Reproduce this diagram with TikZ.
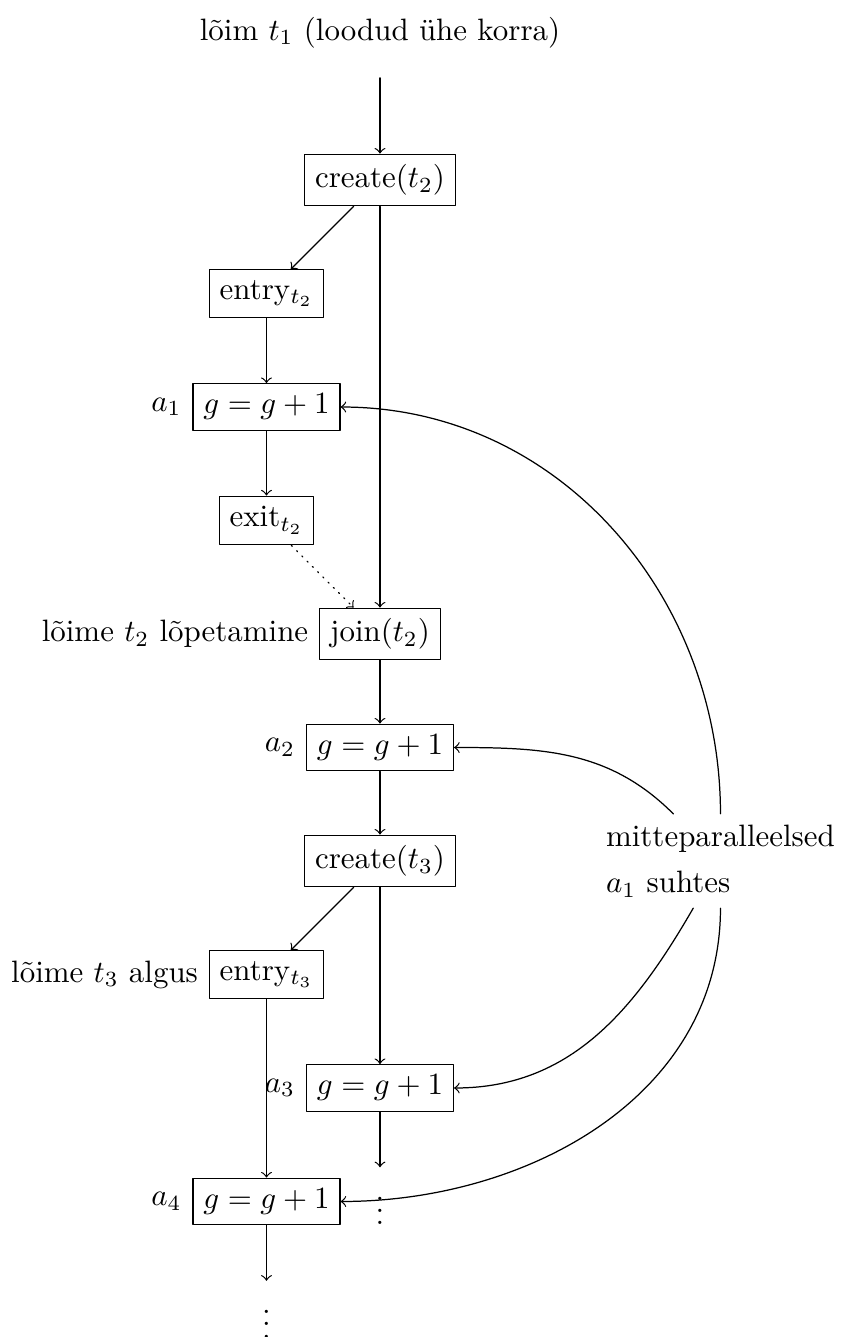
\documentclass[tikz,border=0pt]{standalone}

\begin{document}
\begin{tikzpicture}[
    x={(1.29cm,0cm)},
    y={(0cm,1.29cm)},
    line cap=round,
    line join=round,
    box/.style={
        draw,
        rectangle
    },
    flow/.style={
        ->
    },
    exitflow/.style={
        ->,
        dotted
    },
    order/.style={
        ->
    }
]

\useasboundingbox (-3.348,1.586) rectangle (4.07,-10.194);

% =================================================
% Lõim t_1
% =================================================

\node (thread1) at (0,1.3) {lõim $t_1$ (loodud ühe korra)};
\coordinate (thread1end) at (0,0.9);

% =================================================
% Sündmused
% =================================================

\node[box] (create2) at (0,0)   {create($t_2$)};
\node[box] (entry2)  at (-1,-1) {entry$_{t_2}$};
\node[box] (a1)      at (-1,-2) {$g = g + 1$};
\node[box] (exit2)   at (-1,-3) {exit$_{t_2}$};
\node[box] (join2)   at (0,-4)  {join($t_2$)};
\node[box] (a2)      at (0,-5)  {$g = g + 1$};
\node[box] (create3) at (0,-6)  {create($t_3$)};
\node[box] (entry3)  at (-1,-7) {entry$_{t_3}$};
\node[box] (a3)      at (0,-8)  {$g = g + 1$};
\node[box] (a4)      at (-1,-9) {$g = g + 1$};

\node (dots3) at (0,-9)   {$\vdots$};
\node (dots4) at (-1,-10) {$\vdots$};

% =================================================
% Sildid
% =================================================

\node[left] (a1lbl)     at (a1.west)     {$a_1$};
\node[left] (a2lbl)     at (a2.west)     {$a_2$};
\node[left] (a3lbl)     at (a3.west)     {$a_3$};
\node[left] (a4lbl)     at (a4.west)     {$a_4$};
\node[left] (join2lbl)  at (join2.west)  {lõime $t_2$ lõpetamine};
\node[left] (entry3lbl) at (entry3.west) {lõime $t_3$ algus};

\node[align=left] (remark) at (3,-6) {mitteparalleelsed\\[3pt] $a_1$ suhtes};

% =================================================
% Järjestus
% =================================================

\draw[flow] (thread1end) -- (create2);
\draw[flow] (create2) -- (entry2);
\draw[flow] (entry2) -- (a1);
\draw[flow] (a1) -- (exit2);
\draw[exitflow] (exit2) -- (join2);
\draw[flow] (create2) -- (join2);
\draw[flow] (join2) -- (a2);
\draw[flow] (a2) -- (create3);
\draw[flow] (create3) -- (entry3);
\draw[flow] (create3) -- (a3);
\draw[flow] (entry3) -- (a4);
\draw[flow] (a3) -- (dots3);
\draw[flow] (a4) -- (dots4);

% Mitteparalleelsed sündmused
\draw[order] (remark) to[out=90,in=0]   (a1);
\draw[order] (remark) to[out=135,in=0]  (a2);
\draw[order] (remark) to[out=-120,in=0] (a3);
\draw[order] (remark) to[out=-90,in=0]  (a4);

\end{tikzpicture}
\end{document}
